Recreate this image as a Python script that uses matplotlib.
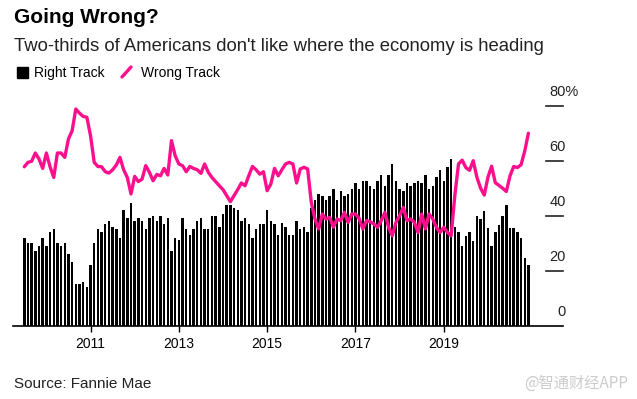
import matplotlib
matplotlib.use("Agg")
import matplotlib.pyplot as plt
import matplotlib.transforms as mtransforms
from matplotlib.patches import Rectangle
from matplotlib.lines import Line2D
import numpy as np
import pandas as pd

plt.rcParams['font.family'] = ['Liberation Sans', 'DejaVu Sans']

# monthly survey readings, % of respondents
right_track = [32, 30, 30, 27, 29, 32, 29, 34, 35, 30, 29, 30,
               26, 23, 15, 15, 15.8, 14.2, 22.2, 30, 35, 34, 37, 37.9,
               35.8, 35, 32, 42, 39, 44.8, 37.9, 39, 37.9, 35, 39, 40,
               37.9, 40, 37, 39, 27, 32, 31, 39, 35, 33, 35, 38,
               39, 35, 35, 40, 40, 35.8, 40.8, 44, 44, 42.8, 42, 38,
               39, 37, 32, 35, 37, 37, 42, 38, 37, 33, 37.5, 35.8,
               33, 33, 38, 35, 35.8, 34, 42.8, 45.8, 47.9, 47, 45.8, 47,
               49.8, 45.8, 49, 47, 47.9, 49.8, 52, 49.8, 52.7, 52.7, 50.8, 49.7,
               52.7, 54.8, 50.7, 54.8, 58.9, 52.7, 49.7, 49, 51.8, 50.7, 51.8, 52.7,
               51.8, 54.8, 49.7, 50.7, 53.9, 56.8, 52.7, 57.7, 60.6, 36, 34, 29,
               32.7, 34.2, 30.7, 39.9, 38.9, 41.8, 35.6, 29, 34.2, 36.8, 39.9, 43.9,
               35.6, 35.6, 34.2, 31.9, 24.8, 22.1]
wrong_track = [57.8, 59.4, 59.8, 62.8, 60.6, 57.2, 62.8, 57.8, 53.9, 62.8, 62.8, 61.2,
               67.9, 70.9, 78.8, 77.3, 76.1, 75.8, 69.1, 59.4, 57.9, 57.8, 56.0, 55.5,
               56.7, 58.4, 61.2, 56.7, 53.9, 47.9, 54.3, 52.4, 53.3, 58.2, 55.8, 52.7,
               55.0, 54.5, 57.2, 54.8, 67.3, 61.8, 58.8, 58.2, 56.0, 57.9, 57.2, 56.7,
               55.4, 58.8, 55.8, 53.9, 52.4, 50.9, 49.5, 47.3, 45.1, 47.3, 49.5, 51.9,
               50.9, 54.5, 57.9, 56.7, 55.1, 56.0, 49.1, 51.5, 57.2, 54.5, 56.7, 58.8,
               59.4, 58.8, 51.9, 57.0, 57.6, 57.0, 44.8, 38.8, 35.2, 40.6, 38.8, 39.4,
               35.8, 38.8, 38.2, 41.2, 37.6, 40.6, 40.6, 39.0, 35.2, 38.2, 37.8, 37.0,
               35.8, 38.2, 41.2, 35.8, 32.7, 37.6, 40.0, 43.0, 38.2, 38.8, 37.6, 33.9,
               40.6, 35.2, 40.6, 38.8, 35.8, 33.9, 35.8, 33.9, 32.7, 47.3, 58.8, 60.2,
               57.5, 56.5, 60.0, 54.0, 50.0, 47.5, 54.0, 58.0, 52.0, 51.0, 50.0, 48.8,
               54.5, 57.9, 57.5, 58.5, 63.5, 70.0]
months = pd.date_range("2009-07-01", periods=len(right_track), freq="MS")
year_labels = [2011, 2013, 2015, 2017, 2019]
y_levels = [0, 20, 40, 60, 80]

PINK = "#fc0f8c"
W, H = 637, 399

fig = plt.figure(figsize=(W / 100, H / 100), dpi=100)
ax = fig.add_axes([13 / W, 73.3 / H, 550 / W, 220 / H])

x = np.arange(len(months))
ax.bar(x, right_track, width=0.66, color="black", zorder=2)
ax.plot(x, wrong_track, color=PINK, lw=2.4, solid_joinstyle="round",
        solid_capstyle="round", zorder=3, clip_on=False)

ax.set_xlim(-3.07, 146.4)
ax.set_ylim(0, 80)

for s in ["top", "right", "left"]:
    ax.spines[s].set_visible(False)
ax.spines["bottom"].set_linewidth(1.2)
ax.spines["bottom"].set_zorder(4)

tick_pos = [i for i, m in enumerate(months) if m.month == 1 and m.year in year_labels]
ax.set_xticks(tick_pos)
ax.set_xticklabels([str(months[i].year) for i in tick_pos], fontsize=10)
ax.tick_params(axis="x", direction="out", length=4, width=1, pad=4, colors="black")
ax.set_yticks([])

# right-hand value labels with short rules
trans = mtransforms.blended_transform_factory(ax.transAxes, ax.transData)
for v in y_levels:
    if v > 0:
        ax.plot([0.969, 1.0], [v, v], transform=trans, color="#222222", lw=1.2,
                clip_on=False)
    if v == 80:
        # top label carries the unit, the % hangs past the other numbers
        ax.text(0.9758, v + 3.5, "80%", transform=trans, ha="left", va="baseline",
                fontsize=10.5, color="#222222")
    else:
        ax.text(1.0055, v + 3.5, str(v), transform=trans, ha="right", va="baseline",
                fontsize=10.5, color="#222222")

# title block
fig.text(14 / W, 1 - 23 / H, "Going Wrong?", fontsize=15, fontweight="bold",
         va="baseline")
fig.text(14 / W, 1 - 51 / H,
         "Two-thirds of Americans don't like where the economy is heading",
         fontsize=13.3, va="baseline", color="#222222")

# legend
fig.patches.append(Rectangle((17 / W, 1 - 78 / H), 11 / W, 11 / H,
                             transform=fig.transFigure, color="black"))
fig.text(34 / W, 1 - 77.5 / H, "Right Track", fontsize=10, va="baseline")
fig.add_artist(Line2D([122 / W, 131 / W], [1 - 77 / H, 1 - 67 / H],
                      transform=fig.transFigure, color=PINK, lw=2.4,
                      solid_capstyle="round"))
fig.text(141 / W, 1 - 77.5 / H, "Wrong Track", fontsize=10, va="baseline")

fig.text(14 / W, 1 - 388 / H, "Source: Fannie Mae", fontsize=11, va="baseline",
         color="#222222")
fig.text(628 / W, 1 - 388 / H, "@智通财经APP", fontsize=11, va="baseline", ha="right",
         color="#cccccc", family=["Noto Sans CJK SC", "DejaVu Sans"])

fig.savefig("out.png", dpi=100)
